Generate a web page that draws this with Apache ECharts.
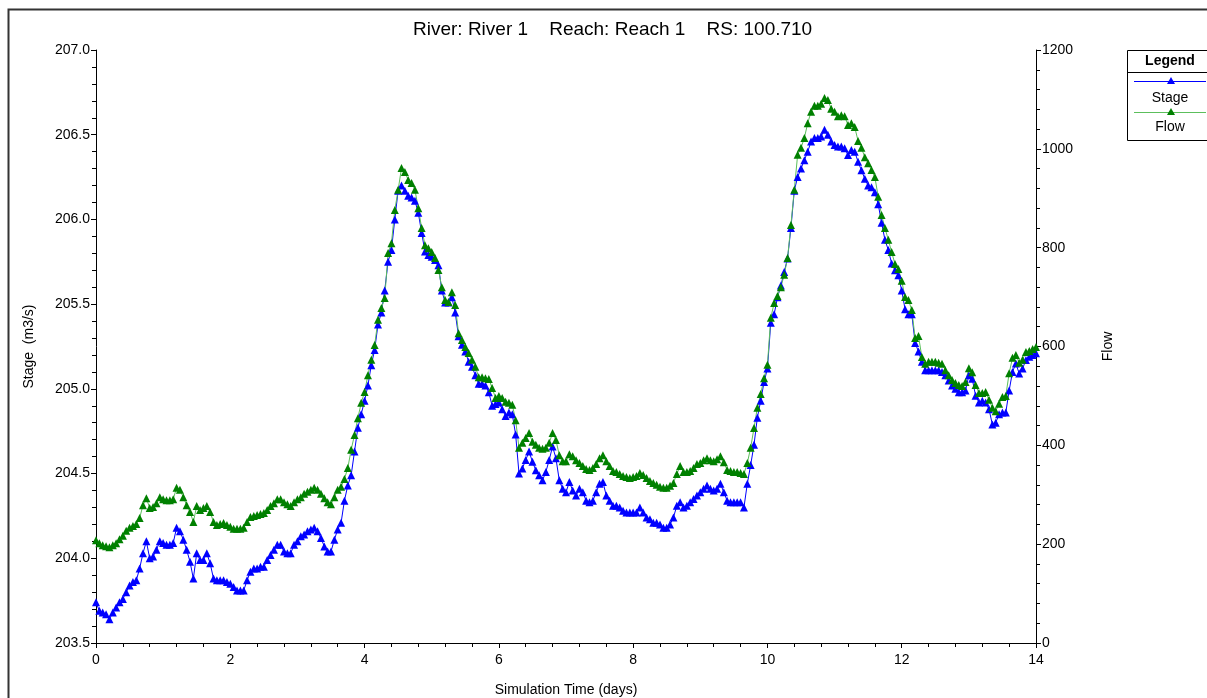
<!DOCTYPE html>
<html>
<head>
<meta charset="utf-8">
<script src="https://cdn.jsdelivr.net/npm/echarts@6/dist/echarts.min.js"></script>
<style>
html,body{margin:0;padding:0;background:#fff;}
#chart{width:1207px;height:698px;}
</style>
</head>
<body>
<div id="chart"></div>
<script>
// ---- Data ----
var times = [
0.00,0.05,0.10,0.15,0.20,0.25,0.30,0.35,0.40,0.45,0.50,0.55,0.60,0.65,0.70,0.75,0.80,0.85,0.90,0.95,
1.00,1.05,1.10,1.15,1.20,1.25,1.30,1.35,1.40,1.45,1.50,1.55,1.60,1.65,1.70,1.75,1.80,1.85,1.90,1.95,
2.00,2.05,2.10,2.15,2.20,2.25,2.30,2.35,2.40,2.45,2.50,2.55,2.60,2.65,2.70,2.75,2.80,2.85,2.90,2.95,
3.00,3.05,3.10,3.15,3.20,3.25,3.30,3.35,3.40,3.45,3.50,3.55,3.60,3.65,3.70,3.75,3.80,3.85,3.90,3.95,
4.00,4.05,4.10,4.15,4.20,4.25,4.30,4.35,4.40,4.45,4.50,4.55,4.60,4.65,4.70,4.75,4.80,4.85,4.90,4.95,
5.00,5.05,5.10,5.15,5.20,5.25,5.30,5.35,5.40,5.45,5.50,5.55,5.60,5.65,5.70,5.75,5.80,5.85,5.90,5.95,
6.00,6.05,6.10,6.15,6.20,6.25,6.30,6.35,6.40,6.45,6.50,6.55,6.60,6.65,6.70,6.75,6.80,6.85,6.90,6.95,
7.00,7.05,7.10,7.15,7.20,7.25,7.30,7.35,7.40,7.45,7.50,7.55,7.60,7.65,7.70,7.75,7.80,7.85,7.90,7.95,
8.00,8.05,8.10,8.15,8.20,8.25,8.30,8.35,8.40,8.45,8.50,8.55,8.60,8.65,8.70,8.75,8.80,8.85,8.90,8.95,
9.00,9.05,9.10,9.15,9.20,9.25,9.30,9.35,9.40,9.45,9.50,9.55,9.60,9.65,9.70,9.75,9.80,9.85,9.90,9.95,
10.00,10.05,10.10,10.15,10.20,10.25,10.30,10.35,10.40,10.45,10.50,10.55,10.60,10.65,10.70,10.75,10.80,10.85,10.90,10.95,
11.00,11.05,11.10,11.15,11.20,11.25,11.30,11.35,11.40,11.45,11.50,11.55,11.60,11.65,11.70,11.75,11.80,11.85,11.90,11.95,
12.00,12.05,12.10,12.15,12.20,12.25,12.30,12.35,12.40,12.45,12.50,12.55,12.60,12.65,12.70,12.75,12.80,12.85,12.90,12.95,
13.00,13.05,13.10,13.15,13.20,13.25,13.30,13.35,13.40,13.45,13.50,13.55,13.60,13.65,13.70,13.75,13.80,13.85,13.90,13.95,
14.00];

var stage = [
203.74,203.69,203.68,203.67,203.64,203.68,203.71,203.74,203.76,203.80,
203.84,203.86,203.87,203.94,204.03,204.10,204.00,204.01,204.05,204.10,
204.09,204.08,204.08,204.09,204.18,204.16,204.11,204.05,203.98,203.88,
204.03,203.99,203.99,204.03,203.97,203.88,203.87,203.87,203.87,203.86,
203.85,203.83,203.81,203.81,203.81,203.87,203.92,203.94,203.94,203.95,
203.95,203.99,204.02,204.05,204.08,204.08,204.04,204.03,204.03,204.08,
204.10,204.13,204.14,204.16,204.17,204.18,204.16,204.12,204.07,204.04,
204.04,204.11,204.17,204.21,204.34,204.43,204.49,204.63,204.77,204.85,
204.93,205.02,205.14,205.23,205.38,205.45,205.58,205.75,205.82,206.00,
206.17,206.20,206.17,206.14,206.13,206.11,206.04,205.92,205.81,205.79,
205.78,205.76,205.73,205.58,205.51,205.51,205.54,205.45,205.31,205.26,
205.22,205.16,205.13,205.08,205.03,205.03,205.02,204.98,204.90,204.91,
204.92,204.88,204.84,204.86,204.85,204.73,204.50,204.53,204.58,204.63,
204.57,204.52,204.49,204.46,204.51,204.58,204.66,204.59,204.46,204.41,
204.39,204.45,204.40,204.37,204.41,204.39,204.34,204.33,204.34,204.39,
204.44,204.45,204.37,204.34,204.31,204.31,204.30,204.28,204.27,204.27,
204.27,204.27,204.30,204.27,204.24,204.23,204.21,204.21,204.20,204.18,
204.18,204.20,204.24,204.31,204.33,204.30,204.31,204.33,204.35,204.37,
204.39,204.41,204.43,204.41,204.40,204.41,204.44,204.39,204.34,204.33,
204.33,204.33,204.33,204.30,204.44,204.55,204.67,204.83,204.93,205.04,
205.12,205.39,205.44,205.54,205.61,205.69,205.77,205.95,206.17,206.25,
206.30,206.35,206.40,206.46,206.48,206.48,206.49,206.53,206.50,206.46,
206.44,206.43,206.43,206.42,206.38,206.41,206.40,206.34,206.29,206.24,
206.20,206.19,206.16,206.09,205.98,205.88,205.82,205.74,205.70,205.67,
205.58,205.47,205.44,205.44,205.27,205.22,205.16,205.11,205.11,205.11,
205.11,205.11,205.10,205.08,205.05,205.02,205.00,204.98,204.98,204.99,
205.08,205.06,204.96,204.92,204.93,204.92,204.88,204.79,204.80,204.85,
204.86,204.86,204.99,205.10,205.15,205.09,205.12,205.17,205.19,205.20,
205.21];

var flow = [
208,202,198,196,194,198,202,210,217,227,
233,237,241,253,279,293,273,275,283,295,
291,289,289,291,314,310,295,279,265,245,
277,269,273,277,265,245,239,241,243,239,
235,231,231,231,233,245,255,257,259,261,
263,269,277,283,291,291,285,281,277,285,
291,295,302,306,310,314,310,302,293,285,
281,295,310,316,332,354,391,421,455,486,
508,542,573,603,654,678,698,789,809,876,
917,961,953,937,931,917,880,840,805,799,
791,779,755,720,694,690,710,684,627,613,
599,587,573,559,538,538,536,534,516,496,
500,496,488,486,482,451,395,405,415,425,
407,401,395,393,395,405,425,411,380,368,
368,382,378,370,364,358,352,350,354,362,
374,380,368,358,348,346,342,338,336,334,
336,338,344,340,334,328,324,320,316,314,
314,318,324,342,358,346,346,348,354,362,
364,370,374,370,368,372,378,366,350,348,
346,346,344,342,364,395,435,476,504,536,
563,658,688,702,720,745,779,846,917,988,
1002,1022,1052,1075,1087,1087,1091,1103,1099,1081,
1075,1066,1068,1066,1048,1052,1044,1016,1002,983,
971,957,943,903,866,840,816,791,767,757,
733,700,694,674,617,621,579,565,569,569,
569,567,565,552,542,532,526,522,520,528,
556,548,522,506,506,508,492,476,469,484,
498,500,546,577,583,567,573,589,591,595,
599];

var titleText = 'River: River 1    Reach: Reach 1    RS: 100.710';
var xName = 'Simulation Time (days)';
var yLeftName = 'Stage  (m3/s)';
var yRightName = 'Flow';
var legendNames = ['Stage', 'Flow'];

// ---- Chart ----
var FONT = '"Liberation Sans", Arial, sans-serif';
var BLUE = '#0000ff';
var GREEN = '#008000';
var GREEN_LINE = '#5cbf5c';

function pairs(vals) {
  return times.map(function (t, i) { return [t, vals[i]]; });
}

function axisCommon() {
  return {
    axisLine: { show: true, onZero: false, lineStyle: { color: '#000', width: 1 } },
    axisTick: { show: true, inside: false, length: 5, lineStyle: { color: '#000', width: 1 } },
    minorTick: { show: true, splitNumber: 5, length: 4, lineStyle: { color: '#000', width: 1 } },
    splitLine: { show: false },
    minorSplitLine: { show: false },
    nameTextStyle: { color: '#000', fontSize: 14, fontFamily: FONT }
  };
}

var xAx = Object.assign(axisCommon(), {
  type: 'value', min: 0, max: 14, interval: 2,
  name: xName, nameLocation: 'middle', nameGap: 40,
  axisLabel: { color: '#000', fontSize: 14, fontFamily: FONT, margin: 10 }
});

var yLeft = Object.assign(axisCommon(), {
  type: 'value', position: 'left', min: 203.5, max: 207.0, interval: 0.5,
  name: yLeftName, nameLocation: 'middle', nameGap: 60, nameRotate: 90,
  axisLabel: { color: '#000', fontSize: 14, fontFamily: FONT, margin: 6,
    formatter: function (v) { return v.toFixed(1); } }
});

var yRight = Object.assign(axisCommon(), {
  type: 'value', position: 'right', min: 0, max: 1200, interval: 200,
  name: yRightName, nameLocation: 'middle', nameGap: 65, nameRotate: 90,
  axisLabel: { color: '#000', fontSize: 14, fontFamily: FONT, margin: 6,
    formatter: function (v) { return String(v); } }
});

function tri(cx, cy, color) {
  return { type: 'polygon', shape: { points: [[cx, cy - 4], [cx - 4, cy + 3], [cx + 4, cy + 3]] },
           style: { fill: color }, z: 102 };
}

var LX = 1127.5, LY = 50.5, LW = 90, LH = 90;
var legendGraphic = [
  { type: 'rect', shape: { x: 8.5, y: 9.5, width: 1300, height: 800 },
    style: { fill: 'none', stroke: '#333', lineWidth: 2 }, z: 100, silent: true },
  { type: 'rect', shape: { x: LX, y: LY, width: LW, height: LH },
    style: { fill: '#fff', stroke: '#000', lineWidth: 1 }, z: 100 },
  { type: 'text', x: 1170, y: 61, style: { text: 'Legend', font: 'bold 14px ' + FONT,
    fill: '#000', align: 'center', verticalAlign: 'middle' }, z: 101 },
  { type: 'line', shape: { x1: LX, y1: 72.5, x2: LX + LW, y2: 72.5 },
    style: { stroke: '#000', lineWidth: 1 }, z: 101 },
  { type: 'line', shape: { x1: 1134, y1: 81.5, x2: 1206, y2: 81.5 },
    style: { stroke: BLUE, lineWidth: 1 }, z: 101 },
  tri(1171, 81, BLUE),
  { type: 'text', x: 1170, y: 98, style: { text: legendNames[0], font: '14px ' + FONT,
    fill: '#000', align: 'center', verticalAlign: 'middle' }, z: 101 },
  { type: 'line', shape: { x1: 1134, y1: 112.5, x2: 1206, y2: 112.5 },
    style: { stroke: GREEN_LINE, lineWidth: 1 }, z: 101 },
  tri(1171, 112, GREEN),
  { type: 'text', x: 1170, y: 127, style: { text: legendNames[1], font: '14px ' + FONT,
    fill: '#000', align: 'center', verticalAlign: 'middle' }, z: 101 }
];

var chart = echarts.init(document.getElementById('chart'), null, { renderer: 'canvas' });
chart.setOption({
  backgroundColor: '#fff',
  animation: false,
  title: {
    text: titleText, left: 413, top: 20, padding: 0,
    textStyle: { color: '#000', fontSize: 19, fontWeight: 'normal', fontFamily: FONT }
  },
  grid: { left: 96, right: 171, top: 50, bottom: 55, containLabel: false, outerBoundsMode: 'none' },
  xAxis: xAx,
  yAxis: [yLeft, yRight],
  series: [
    {
      name: legendNames[0], type: 'line', yAxisIndex: 0, data: pairs(stage),
      symbol: 'triangle', symbolSize: 8, showAllSymbol: true,
      lineStyle: { color: BLUE, width: 1 }, itemStyle: { color: BLUE },
      emphasis: { disabled: true }
    },
    {
      name: legendNames[1], type: 'line', yAxisIndex: 1, data: pairs(flow),
      symbol: 'triangle', symbolSize: 8, showAllSymbol: true,
      lineStyle: { color: GREEN_LINE, width: 1 }, itemStyle: { color: GREEN },
      emphasis: { disabled: true }
    }
  ],
  graphic: legendGraphic
});
</script>
</body>
</html>
